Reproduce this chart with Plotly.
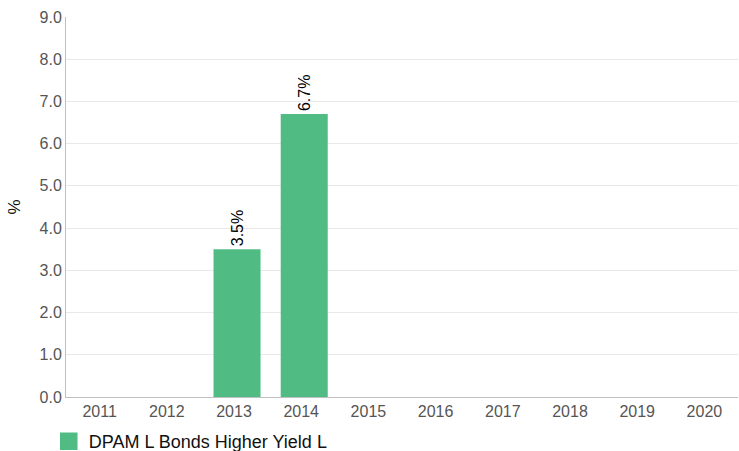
import plotly.graph_objects as go

years = ["2011", "2012", "2013", "2014", "2015", "2016", "2017", "2018", "2019", "2020"]
returns = [None, None, 3.5, 6.7, None, None, None, None, None, None]
series_name = "DPAM L Bonds Higher Yield L"
bar_color = "#50bc84"

labels = [f"{v:.1f}%" if v is not None else "" for v in returns]
font_family = "Liberation Sans, Arial, sans-serif"

fig = go.Figure()
fig.add_trace(go.Bar(
    x=years,
    y=returns,
    name=series_name,
    legendgroup="fund",
    showlegend=False,
    marker=dict(color=bar_color, line=dict(width=0)),
    width=0.7,
    offset=-0.305,
    text=labels,
    textposition="outside",
    textangle=-90,
    textfont=dict(family=font_family, size=16, color="#000000"),
    cliponaxis=False,
))
# legend entry with a larger square swatch
fig.add_trace(go.Scatter(
    x=[None], y=[None],
    mode="markers",
    name=series_name,
    legendgroup="fund",
    marker=dict(symbol="square", size=16, color=bar_color,
                line=dict(color=bar_color, width=1.5)),
))

fig.update_layout(
    width=739,
    height=451,
    margin=dict(l=66, r=1, t=17, b=54),
    paper_bgcolor="white",
    plot_bgcolor="white",
    font=dict(family=font_family, size=16, color="#555555"),
    showlegend=True,
    legend=dict(
        orientation="h",
        xref="container", yref="container",
        x=0.066, xanchor="left",
        y=0.062, yanchor="top",
        font=dict(size=18, color="#111111"),
        itemsizing="trace",
        itemwidth=30,
        bgcolor="rgba(0,0,0,0)",
    ),
)

fig.update_xaxes(
    type="category",
    showline=True, linecolor="#bfbfbf", linewidth=1,
    showgrid=False,
    ticks="", tickfont=dict(size=16, color="#555555"),
    automargin=False,
)
fig.update_yaxes(
    range=[0, 9], dtick=1, tickformat=".1f",
    showline=True, linecolor="#bfbfbf", linewidth=1,
    showgrid=True, gridcolor="#e8e8e8", gridwidth=1,
    zeroline=False,
    ticks="", tickfont=dict(size=16, color="#555555"),
    title=dict(text="%", font=dict(size=17, color="#111111"), standoff=14),
    automargin=False,
)

fig.write_html("out.html")
